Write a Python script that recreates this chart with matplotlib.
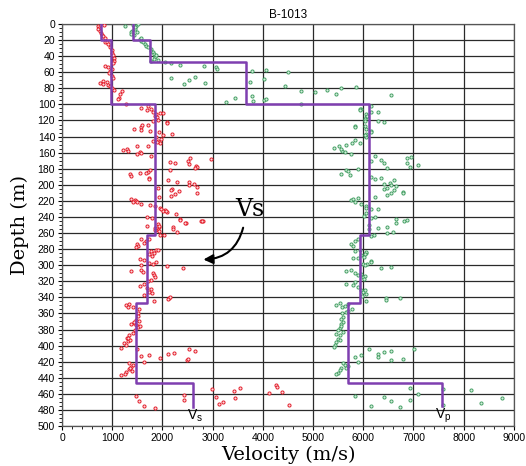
import numpy as np
import matplotlib.pyplot as plt
from matplotlib.ticker import MultipleLocator

# layered model (depth boundaries, m / velocity, m/s)
vs_tops = [0, 20, 100, 263, 347, 446, 476]
vs_model = [775, 970, 1860, 1700, 1470, 2600]
vp_tops = [0, 20, 47, 100, 263, 347, 446, 475]
vp_model = [1410, 1750, 3660, 6110, 5930, 5700, 7570]

# measured Vs (depth, velocity)
vs_pts = [
    (2.5, 709), (4.6, 735), (6.6, 722), (8.7, 755), (11.6, 775), (1.7, 841), (14, 788), (15, 821),
    (18, 854), (22, 854), (23, 887), (25, 921), (29, 954), (32, 987), (35.6, 1000), (39, 1020),
    (42, 1033), (46, 1040), (48, 1020), (52, 854), (53.4, 921), (55.5, 987), (58.4, 954), (61, 940),
    (64.6, 987), (66.7, 1020), (70.8, 821), (73, 755), (75, 821), (72, 887), (75.8, 907), (77, 954),
    (79, 987), (82, 1040), (83, 1185), (87, 1152), (91.5, 1132), (93.6, 1119), (100, 1265),
    (104.6, 1578), (102.5, 1711), (107, 1698), (105.8, 1777), (109, 1811), (114, 1844), (116, 1897),
    (112, 1877), (120, 1910), (111, 1957), (111, 2010), (122.4, 2096),
    (130.4, 1432), (127.5, 1578), (125.4, 1591), (131.6, 1565), (125.4, 1711), (133.7, 1744),
    (120.4, 1811), (123.3, 2096), (134.9, 1924), (137.8, 2010), (137, 2183), (141, 1877), (143, 1977),
    (145, 1910), (148, 1950), (147, 1900), (146, 1811), (151.5, 1711), (152.3, 1492), (155, 1299),
    (158.5, 1312), (156.5, 1213), (159, 1545), (161, 1565), (162, 1492), (164, 1777), (171.8, 2143),
    (173, 2243), (170, 2508), (167, 2555), (174, 2521), (176, 2661), (178, 2694), (179, 2641),
    (168, 2973), (181, 2143), (182, 1744), (184, 1711), (185, 1678), (185, 1545), (186.7, 1345),
    (188.7, 1379), (191.6, 1724), (193, 1731), (194, 2110), (196, 2296), (196.6, 2521), (198.5, 2621),
    (200.5, 2528), (202.8, 2681), (204, 1910), (205, 2189), (207, 2176), (208, 2322), (211, 2243),
    (213.6, 2163), (210, 2681), (215, 1924), (218, 1379), (218.5, 1445), (220, 1465), (221, 1412),
    (222, 1492), (223.5, 1578), (225.6, 1744), (226.8, 1844), (228.9, 1944), (230, 1977), (231.5, 2043),
    (234, 2096), (233, 2010), (232, 2070), (236, 2276), (242, 2356), (247, 2462), (240, 1684),
    (241, 1797), (245.5, 2774), (245, 2807), (251, 1684), (252, 1937), (253, 2203), (254, 1844),
    (249, 1917), (251.7, 1937), (255.9, 1904), (256.7, 1850), (258, 1924), (262, 1957), (262, 2037),
    (255, 2203), (259, 2282), (244, 2355), (247.6, 2455), (245.5, 2781),
    (267, 1737), (270.4, 1671), (272.4, 1638), (267.5, 1571), (273.7, 1492), (275.7, 1518), (277.4, 1472),
    (282.8, 1771), (284.8, 1824), (281.5, 1870), (280.7, 1917), (286, 1737), (288, 1791),
    (292, 1558), (293, 1638), (297.3, 1737), (296, 1870), (298, 1804), (299.3, 1571), (301.4, 2083),
    (303.5, 2409), (306.8, 1372), (305.5, 1571), (308.4, 1604), (309.7, 1804), (311.8, 1837),
    (314.7, 1850), (318, 1771), (320, 1704), (323, 1638), (326, 1558), (328, 1691), (330, 1771),
    (333.7, 1737), (334.5, 1784), (336.6, 1638), (344, 1837), (341, 2136), (342, 2116), (340, 2156),
    (349, 1272), (348, 1339), (352, 1306), (352, 1419), (355, 1538), (359, 1505), (363.5, 1518),
    (367.7, 1472), (370, 1538), (372, 1439), (376, 1505),
    (372.5, 1372), (370.5, 1439), (374.6, 1472), (376.7, 1505), (375.9, 1558), (380.8, 1458),
    (384, 1405), (387, 1339), (391, 1292), (394, 1306), (396.6, 1239), (399.5, 1272), (402.4, 1173),
    (393, 1359), (390, 1319), (403.6, 1485), (413, 1578), (412, 1738), (415, 1957), (410, 2116),
    (408.6, 2236), (404.8, 2535), (407, 2655), (418, 2488), (416.4, 2515), (420, 1625), (421.4, 1339),
    (423.5, 1419), (426.4, 1372), (429.3, 1339), (431.3, 1385), (432.6, 1272), (434.7, 1253),
    (436, 1173), (427.6, 1359), (462.8, 1472), (469, 1538), (475.6, 1638), (477.3, 1857),
    (461, 2435), (467.8, 2435), (454.5, 2987), (464.5, 3066), (472.3, 3120), (470.7, 3213),
    (456, 3432), (453.3, 3538), (465.7, 3439), (449.6, 4262), (451, 4276), (459.5, 4116),
    (457.5, 4382), (474.4, 4528),
]

# measured Vp (depth, velocity)
vp_pts = [
    (2.9, 1259), (1.2, 1412), (2, 1478), (6.2, 1445), (8.3, 1392), (10.4, 1365), (12.4, 1379),
    (13.7, 1432), (4, 1458), (9.5, 1485), (0, 1512), (18.7, 1545), (20.7, 1578), (22.8, 1611),
    (24.9, 1645), (27, 1678), (29, 1711), (17.8, 1565), (31, 1764), (33, 1777), (35, 1811),
    (37, 1831), (39.4, 1844), (41.5, 1857), (38, 1877), (43.6, 1831), (44.4, 1910), (45.6, 1777),
    (47.7, 2043), (49, 2176), (51, 2355), (52.7, 2821), (54, 3060), (56, 3093), (67, 2176),
    (75, 2422), (70, 2528), (65.6, 2641), (73.9, 2854), (97.5, 3259), (91.7, 3439), (59, 3791),
    (57, 4070), (60, 4502), (68.9, 4017), (76.8, 4435), (72, 3751), (90, 3784), (95.4, 3804),
    (94.6, 4023), (93.4, 4070),
    (83.7, 4754), (85, 5047), (81.7, 5286), (87, 5465), (80, 5565), (78.8, 5850), (88.3, 6542),
    (99.5, 4754), (105.8, 5950), (112, 6063), (116, 6063), (118, 6043), (114, 6083), (101.6, 6163),
    (110, 6163), (110, 6296), (121, 6296), (122.4, 6409), (126.6, 5844), (128.6, 5844), (130.7, 6063),
    (132.8, 6163), (134.9, 6163), (137, 6063), (141, 6063), (105.4, 5937), (107, 5937),
    (120.7, 6037), (127, 6037), (138.6, 6037),
    (154.4, 5419), (152.3, 5512), (150.7, 5651), (157.8, 5585), (159, 5631), (155.7, 5565),
    (162, 5751), (147.4, 5784), (144, 5844), (147.4, 5944), (164, 6229), (169, 6349), (172.3, 6415),
    (178.5, 6468), (170, 6163), (166.9, 6867), (165.2, 6947), (173, 6874), (177.3, 6940), (175.2, 7080),
    (181.5, 5651), (182.7, 5698), (186.9, 5551), (188, 5744), (179.8, 5897), (190, 6163), (193, 6229),
    (191.8, 6349), (198.5, 6409), (197.3, 6528), (200, 6542), (194.3, 6608), (201.4, 6661),
    (204.7, 6409), (203.5, 6475), (210.6, 6548), (213, 6468), (206.4, 6608), (208.5, 6794),
    (209.8, 6794), (214.7, 6229), (218.9, 5751), (217.2, 5797), (221, 5844), (216, 5897),
    (224.3, 5950), (226.4, 6063), (228.4, 6063), (229.7, 6163), (230.5, 6296), (234.7, 6063),
    (238.8, 6016), (240.9, 6163), (240, 6229), (243, 6661), (247, 6661), (245, 6801), (244.3, 6867),
    (254.2, 6296), (252.5, 6468), (260.4, 6468), (258.8, 6601), (250.4, 6110), (255.4, 6110),
    (263.8, 6163), (263, 6216), (267, 5897), (270, 5844), (273, 5751), (276.3, 5797), (282.5, 5844),
    (281.7, 5944), (284.6, 6063), (290.8, 5897), (291.6, 5797), (295, 6163), (283.4, 6063),
    (287.6, 5963), (286.3, 6030), (289.5, 6016), (295.9, 6163), (298, 6083), (298.8, 5997),
    (300, 6043), (304, 6349), (302, 6542), (307, 5651), (305.4, 5751), (309.5, 5844), (312.4, 5897),
    (311, 5950), (314.5, 5997), (313.7, 6030), (316.6, 6016), (322.8, 5651), (324, 5797),
    (320.7, 5844), (326.9, 5897), (331, 5963), (333, 5997), (330.3, 6043), (335.2, 6063),
    (344.7, 6063), (338, 5984), (340.6, 6462), (343.5, 6462), (341.4, 6728),
    (349.7, 5465), (347.6, 5531), (351.8, 5585), (351, 5631), (348.5, 5698), (358, 5665),
    (360, 5578), (364.2, 5598), (367.5, 5551), (370.4, 5605), (372.5, 5565), (378.7, 5531),
    (380.8, 5498), (385, 5465), (387, 5531), (391.2, 5498), (395.3, 5465), (399.4, 5445),
    (402.3, 5419), (357, 5698), (354.6, 5784), (382.8, 5598), (376, 5551), (393, 5531),
    (404, 6116), (410.6, 6296), (408.5, 6409), (406.8, 6542), (418, 6542), (416.8, 6794),
    (404.8, 7013), (411.8, 5950), (413.9, 5844), (420, 5897), (414, 6296), (421.3, 5598),
    (424, 5631), (425.5, 5698), (428.4, 5665), (428.4, 5565), (430.5, 5531), (433.7, 5498),
    (435.4, 5465), (452.4, 6940), (460.7, 7086), (462.3, 5844), (464, 6409), (469, 6542),
    (467.7, 6940), (475.1, 6163), (476.8, 6728), (454, 7578), (473.9, 7578), (455.7, 8136),
    (471.8, 8336), (465.6, 8767),
]

vs_d, vs_v = np.array(vs_pts).T
vp_d, vp_v = np.array(vp_pts).T

plt.rcParams['mathtext.fontset'] = 'dejavusans'
sans = 'Liberation Sans'
serif = 'DejaVu Serif'

fig = plt.figure(figsize=(5.26, 4.66), dpi=100)
ax = fig.add_axes([0.118, 0.0858, 0.859, 0.8627])

ax.scatter(vp_v, vp_d, s=5, marker='o', facecolors='#d8eedf', edgecolors='#45a064',
           linewidths=0.7, zorder=3)
ax.scatter(vs_v, vs_d, s=5, marker='o', facecolors='#fadadd', edgecolors='#e41e2b',
           linewidths=0.7, zorder=3)

def step_xy(tops, vel):
    y = np.repeat(tops, 2)[1:-1]
    x = np.repeat(vel, 2)
    return x, y

purple = '#7f3fb0'
x, y = step_xy(vs_tops, vs_model)
ax.plot(x, y, color=purple, lw=1.8, zorder=4)
x, y = step_xy(vp_tops, vp_model)
ax.plot(x, y, color=purple, lw=1.8, zorder=4)

ax.set_xlim(0, 9000)
ax.set_ylim(500, 0)
ax.xaxis.set_major_locator(MultipleLocator(1000))
ax.xaxis.set_minor_locator(MultipleLocator(200))
ax.yaxis.set_major_locator(MultipleLocator(20))
ax.yaxis.set_minor_locator(MultipleLocator(5))
ax.grid(True, which='major', color='#2a2a2a', lw=0.9)
ax.set_axisbelow(True)
ax.tick_params(which='major', length=3, width=0.8, labelsize=7.5, pad=2)
ax.tick_params(which='minor', length=2, width=0.6)
for lab in ax.get_xticklabels() + ax.get_yticklabels():
    lab.set_family(sans)
for sp in ax.spines.values():
    sp.set_color('#555555')
    sp.set_linewidth(0.9)

ax.set_title('B-1013', fontsize=8.5, family=sans, pad=4)
ax.set_xlabel('Velocity (m/s)', fontsize=14, family=serif, labelpad=2)
ax.set_ylabel('Depth (m)', fontsize=14, family=serif, labelpad=6)

ax.text(2650, 487, r'$\mathregular{V_s}$', fontsize=10, ha='center', va='center', family=sans)
ax.text(7590, 487, r'$\mathregular{V_p}$', fontsize=10, ha='center', va='center', family=sans)

ax.text(3745, 231, 'Vs', fontsize=17, family=serif, ha='center', va='center')
ax.annotate('', xy=(2760, 293), xytext=(3620, 250),
            arrowprops=dict(arrowstyle='-|>', color='black', lw=1.5, mutation_scale=14,
                            connectionstyle='arc3,rad=-0.4'))

plt.savefig('out.png', dpi=100)
